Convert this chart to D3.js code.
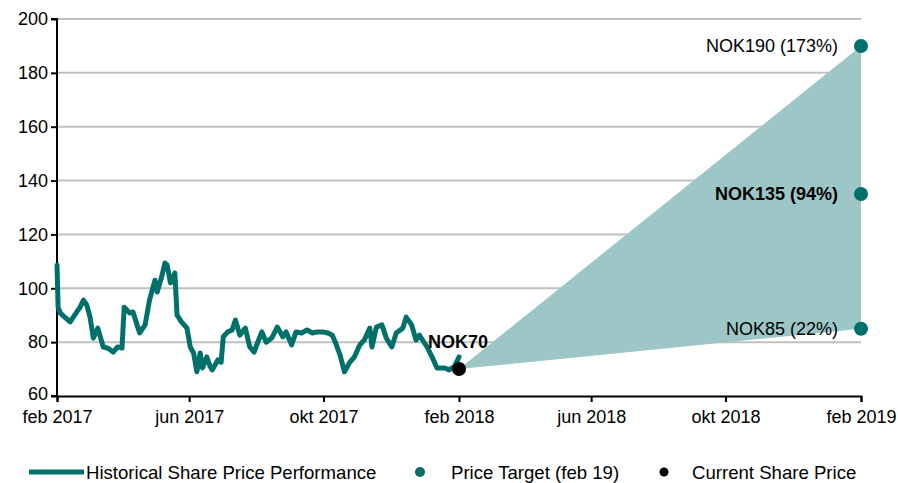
<!DOCTYPE html>
<html><head><meta charset="utf-8">
<script src="https://cdn.jsdelivr.net/npm/d3@7"></script>
<style>body{margin:0;background:#fff;} text{font-family:"Liberation Sans",Arial,sans-serif;}</style>
</head><body>
<svg id="c" width="898" height="483"></svg>
<script>
const histDates = ["2017-02-01","2017-02-02","2017-02-04","2017-02-08","2017-02-13","2017-02-17","2017-02-22","2017-02-25","2017-02-28","2017-03-03","2017-03-06","2017-03-10","2017-03-15","2017-03-19","2017-03-24","2017-03-28","2017-04-01","2017-04-03","2017-04-08","2017-04-11","2017-04-17","2017-04-22","2017-04-26","2017-05-01","2017-05-03","2017-05-07","2017-05-10","2017-05-12","2017-05-15","2017-05-19","2017-05-21","2017-05-25","2017-05-30","2017-06-02","2017-06-05","2017-06-08","2017-06-11","2017-06-13","2017-06-17","2017-06-20","2017-06-22","2017-06-27","2017-06-30","2017-07-02","2017-07-06","2017-07-10","2017-07-13","2017-07-17","2017-07-22","2017-07-26","2017-07-30","2017-08-02","2017-08-06","2017-08-10","2017-08-15","2017-08-20","2017-08-25","2017-08-28","2017-09-02","2017-09-06","2017-09-11","2017-09-16","2017-09-21","2017-09-25","2017-09-30","2017-10-05","2017-10-09","2017-10-12","2017-10-16","2017-10-20","2017-10-25","2017-10-29","2017-11-03","2017-11-07","2017-11-12","2017-11-14","2017-11-18","2017-11-23","2017-11-27","2017-12-02","2017-12-06","2017-12-12","2017-12-15","2017-12-20","2017-12-24","2017-12-27","2018-01-03","2018-01-08","2018-01-12","2018-01-19","2018-01-23","2018-01-28","2018-02-01"];
const histValues = [108.6,93,90.8,89.3,87.5,90,93,95.6,93.8,89.3,81.5,85.2,78.2,77.8,76.3,78.2,77.8,93,90.8,91.2,83.4,86.4,95.6,103,98.6,104.2,109.4,108.6,102,105.7,90,87.5,85.2,78.2,76,69,76,70.4,74.5,71,69.7,73.4,72.5,82,83.8,84.5,88.2,82.6,85.2,78.2,76.3,79.7,83.8,80,81.5,85.6,82,83.8,79,83.8,83.4,84.5,83.4,83.8,83.8,83.4,82.6,79.7,75.2,69,72.6,74.5,79,80.8,85.2,78.2,85.6,86.4,81.5,78.2,83.4,85.2,89.3,86.4,80.8,82.6,78.2,74.1,70.4,70.4,69.7,71,74.5];
const currentDate = "2018-02-01";
const currentPrice = 70;
const targetDate = "2019-02-01";
const targetValues = [190, 135, 85];
const targetLabels = ["NOK190 (173%)", "NOK135 (94%)", "NOK85 (22%)"];
const targetBold = [false, true, false];
const yTicks = [60,80,100,120,140,160,180,200];
const xTickDates = ["2017-02-01","2017-06-01","2017-10-01","2018-02-01","2018-06-01","2018-10-01","2019-02-01"];
const xTickLabels = ["feb 2017","jun 2017","okt 2017","feb 2018","jun 2018","okt 2018","feb 2019"];
const legendLabels = ["Historical Share Price Performance","Price Target (feb 19)","Current Share Price"];

const parse = d3.timeParse("%Y-%m-%d");
const svg = d3.select("#c");
const L = 57, R = 861, T = 19, B = 396;
const FS = "18px";
const x = d3.scaleTime().domain([parse("2017-02-01"), parse("2019-02-01")]).range([L, R]);
const y = d3.scaleLinear().domain([60, 200]).range([B, T]);
const teal = "#00706B", fillC = "#9DC6C6";

// gridlines
svg.append("g").selectAll("line").data(yTicks.filter(v => v > 60)).join("line")
  .attr("x1", L).attr("x2", R).attr("y1", d => y(d)).attr("y2", d => y(d))
  .attr("stroke", "#C0C0C0").attr("stroke-width", 2);

// area fan
const fan = [
  {d: parse(currentDate), lo: currentPrice, hi: currentPrice},
  {d: parse(targetDate), lo: targetValues[2], hi: targetValues[0]}
];
svg.append("path").datum(fan)
  .attr("d", d3.area().x(d => x(d.d)).y0(d => y(d.lo)).y1(d => y(d.hi)))
  .attr("fill", fillC);

// axes
const yAxis = d3.axisLeft(y).tickValues(yTicks).tickSize(6).tickPadding(3);
const gy = svg.append("g").attr("transform", `translate(${L},0)`).call(yAxis);
const xAxis = d3.axisBottom(x).tickValues(xTickDates.map(parse)).tickSize(6).tickPadding(8)
  .tickFormat((d, i) => xTickLabels[i]);
const gx = svg.append("g").attr("transform", `translate(0,${B})`).call(xAxis);
[gy, gx].forEach(g => {
  g.select(".domain").attr("stroke", "#000").attr("stroke-width", 2);
  g.selectAll(".tick line").attr("stroke", "#000").attr("stroke-width", 2);
  g.selectAll("text").attr("fill", "#000").style("font-size", FS).style("font-family", '"Liberation Sans",Arial,sans-serif');
});
gy.select(".domain").attr("d", `M-6,${B}H0V${T}H-6`);
gy.selectAll(".tick text").filter(d => d === 60).attr("dy", "0.2em");

// history line
const hist = histDates.map((d, i) => ({d: parse(d), v: histValues[i]}));
svg.append("path").datum(hist)
  .attr("d", d3.line().x(d => x(d.d)).y(d => y(d.v)))
  .attr("fill", "none").attr("stroke", teal).attr("stroke-width", 5)
  .attr("stroke-linejoin", "round").attr("stroke-linecap", "round");

// target dots and labels
svg.append("g").selectAll("circle").data(targetValues).join("circle")
  .attr("cx", x(parse(targetDate))).attr("cy", d => y(d)).attr("r", 7).attr("fill", teal);
svg.append("g").selectAll("text").data(targetValues).join("text")
  .attr("x", x(parse(targetDate)) - 23).attr("y", d => y(d)).attr("dy", "0.35em")
  .attr("text-anchor", "end").style("font-size", FS)
  .style("font-weight", (d, i) => targetBold[i] ? "bold" : "normal")
  .text((d, i) => targetLabels[i]);

// current price
svg.append("circle").attr("cx", x(parse(currentDate))).attr("cy", y(currentPrice)).attr("r", 7).attr("fill", "#000");
svg.append("text").attr("x", x(parse(currentDate)) - 31).attr("y", y(currentPrice) - 21)
  .style("font-size", FS).style("font-weight", "bold").text("NOK" + currentPrice);

// legend
const ly = 472, LFS = "18.6px";
const lg = svg.append("g");
lg.append("line").attr("x1", 29).attr("x2", 84).attr("y1", ly).attr("y2", ly).attr("stroke", teal).attr("stroke-width", 5);
lg.append("text").attr("x", 86).attr("y", ly).attr("dy", "0.35em").style("font-size", LFS).text(legendLabels[0]);
lg.append("circle").attr("cx", 420).attr("cy", ly).attr("r", 5).attr("fill", teal);
lg.append("text").attr("x", 451).attr("y", ly).attr("dy", "0.35em").style("font-size", LFS).text(legendLabels[1]);
lg.append("circle").attr("cx", 664).attr("cy", ly).attr("r", 4.5).attr("fill", "#000");
lg.append("text").attr("x", 692).attr("y", ly).attr("dy", "0.35em").style("font-size", LFS).text(legendLabels[2]);
</script>
</body></html>
